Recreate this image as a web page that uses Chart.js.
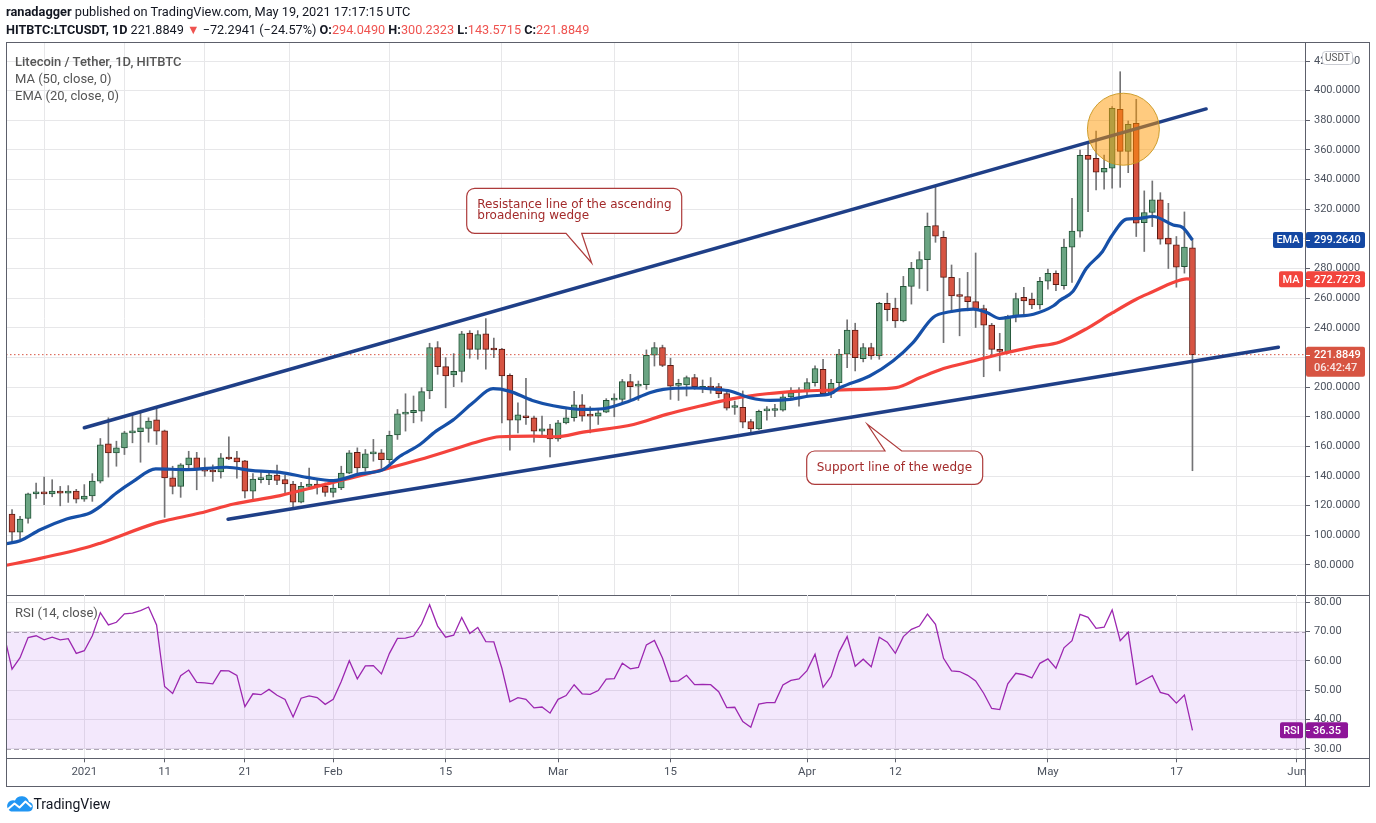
<!DOCTYPE html>
<html>
<head>
<meta charset="utf-8">
<script src="https://cdn.jsdelivr.net/npm/chart.js@4.4.1/dist/chart.umd.min.js"></script>
<style>
html,body{margin:0;padding:0;background:#fff;width:1376px;height:823px;overflow:hidden;}
canvas{position:absolute;}
.t{position:absolute;white-space:nowrap;font-family:Roboto,"Liberation Sans",sans-serif;color:#131722;z-index:5;}
.r{color:#ef5350;}
.lg{color:#555;font-size:13px;line-height:16px;}
.co{position:absolute;white-space:nowrap;font-family:"DejaVu Sans",sans-serif;font-size:12px;line-height:11.7px;color:#a32b2b;z-index:5;}
</style>
</head>
<body>
<canvas id="priceChart" width="1376" height="596" style="left:0;top:0"></canvas>
<canvas id="rsiChart" width="1376" height="228" style="left:0;top:595px"></canvas>

<div class="t" style="left:6px;top:4px;font-size:12.8px;line-height:16px"><b>ranadagger</b> published on TradingView.com, May 19, 2021 17:17:15 UTC</div>
<div class="t" style="left:6px;top:21.5px;font-size:12.7px;line-height:16px"><b>HITBTC:LTCUSDT, 1D</b> 221.8849 <span class="r">▼</span> −72.2941 (−24.57%) <b>O:</b><span class="r">294.0490</span> <b>H:</b><span class="r">300.2323</span> <b>L:</b><span class="r">143.5715</span> <b>C:</b><span class="r">221.8849</span></div>
<div class="t lg" style="left:15px;top:53.5px;font-weight:500">Litecoin / Tether, 1D, HITBTC</div>
<div class="t lg" style="left:15px;top:71px">MA (50, close, 0)</div>
<div class="t lg" style="left:15px;top:87.5px">EMA (20, close, 0)</div>
<div class="t lg" style="left:15px;top:605px">RSI (14, close)</div>
<div class="co" style="left:477.3px;top:198.6px">Resistance line of the ascending<br>broadening wedge</div>
<div class="co" style="left:816.7px;top:461.6px">Support line of the wedge</div>
<svg style="position:absolute;left:6px;top:796px" width="27" height="16" viewBox="0 0 27 16">
  <path d="M5 15.5 H22 A4.8 4.8 0 0 0 23 6 A7.5 7.5 0 0 0 9 4.5 A5.6 5.6 0 0 0 5 15.5 Z" fill="#2196f3"/>
  <polyline points="1.5,13.5 8.5,7.5 13.5,11.5 19.5,5.5 25.5,11" fill="none" stroke="#fff" stroke-width="2" stroke-linejoin="round"/>
</svg>
<div class="t" style="left:33.5px;top:796px;font-size:14px;line-height:16px;color:#131722">TradingView</div>

<script>
// ---------- DATA ----------
// day offsets relative to 2021-01-01; first candle is 2020-12-23
const firstDay = -9;
const opens = [
  114.3, 102.1, 111.4, 127.9, 129.2, 127.9, 129.9, 128.5, 129.9, 124.4,
  126.5, 136.6, 161.7, 155.6, 159.0, 169.1, 170.0, 172.1, 177.9, 170.5,
  138.7, 133.0, 147.5, 152.2, 144.3, 143.8, 142.7, 152.2, 152.2, 150.2,
  129.7, 137.6, 137.6, 140.7, 137.6, 134.6, 122.4, 133.0, 134.6, 133.0,
  129.0, 131.9, 142.0, 156.0, 145.4, 154.9, 155.6, 151.1, 167.8, 181.8,
  182.7, 183.8, 197.4, 226.7, 213.8, 208.2, 210.5, 236.4, 225.5, 236.0,
  225.5, 225.7, 208.0, 177.7, 180.4, 179.3, 170.3, 171.8, 165.1, 175.9,
  179.3, 188.1, 180.6, 180.4, 183.1, 191.2, 191.7, 203.7, 200.7, 201.6,
  221.5, 226.7, 214.7, 201.2, 201.4, 206.4, 199.2, 200.0, 200.3, 195.6,
  186.2, 186.4, 176.8, 171.8, 184.0, 184.2, 184.5, 193.3, 196.7, 196.9,
  203.0, 212.0, 195.5, 203.0, 222.2, 238.4, 219.2, 226.7, 221.1, 256.5,
  253.3, 244.7, 268.0, 279.7, 286.0, 309.0, 301.1, 274.0, 261.8, 261.1,
  257.7, 253.0, 241.8, 225.5, 223.7, 247.7, 260.5, 259.4, 255.5, 271.4,
  276.8, 268.5, 294.4, 305.2, 356.4, 354.4, 345.0, 347.7, 387.4, 359.1,
  378.0, 311.0, 317.8, 326.3, 300.5, 296.0, 281.3, 294.049
];
const highs = [
  117.3, 112.8, 128.5, 135.3, 139.3, 137.5, 133.0, 133.5, 131.0, 134.2,
  141.6, 165.3, 179.3, 163.5, 170.2, 181.5, 182.7, 179.3, 186.0, 171.0,
  146.6, 148.4, 156.7, 156.0, 152.2, 147.5, 155.2, 166.4, 156.7, 150.6,
  141.6, 143.9, 143.7, 147.3, 140.4, 136.4, 135.7, 145.4, 137.5, 135.3,
  135.7, 146.6, 157.2, 159.0, 157.9, 164.7, 157.9, 170.3, 184.9, 195.5,
  194.0, 199.6, 229.6, 230.7, 219.9, 222.6, 237.6, 238.1, 238.1, 246.2,
  233.1, 226.2, 208.9, 189.4, 205.9, 180.4, 180.4, 174.8, 177.5, 184.9,
  197.1, 194.9, 186.8, 184.9, 192.2, 195.5, 205.2, 208.6, 204.1, 225.1,
  230.1, 228.3, 219.5, 205.3, 207.5, 208.6, 204.8, 206.4, 202.5, 197.4,
  190.6, 197.4, 178.2, 184.5, 186.8, 188.3, 195.1, 199.6, 199.6, 205.7,
  214.3, 218.8, 205.2, 225.5, 245.4, 243.1, 229.4, 229.6, 257.2, 263.4,
  260.0, 274.7, 284.2, 291.4, 317.5, 335.6, 305.2, 282.4, 273.3, 277.4,
  290.5, 255.3, 243.0, 236.3, 248.5, 263.4, 267.3, 263.4, 274.1, 279.7,
  278.5, 299.8, 327.4, 360.0, 365.6, 372.8, 356.6, 389.2, 412.8, 379.6,
  394.2, 332.4, 339.1, 331.2, 324.0, 301.6, 318.2, 300.2323
];
const lows = [
  95.2, 97.4, 108.2, 124.9, 120.6, 126.0, 119.9, 122.2, 121.8, 122.9,
  122.9, 135.3, 139.3, 146.6, 154.5, 162.4, 149.3, 162.8, 161.3, 112.1,
  127.9, 125.6, 143.6, 130.7, 139.8, 136.4, 138.6, 151.1, 138.6, 125.2,
  123.4, 135.3, 134.2, 134.2, 128.5, 118.4, 121.8, 131.2, 127.8, 126.3,
  125.8, 130.8, 141.6, 141.0, 143.2, 150.0, 145.4, 148.8, 164.7, 170.3,
  175.9, 177.0, 192.2, 208.6, 186.0, 200.3, 203.4, 219.5, 218.8, 212.1,
  219.9, 175.9, 157.4, 169.1, 174.8, 162.8, 165.8, 152.9, 163.5, 175.2,
  177.0, 177.0, 169.1, 174.8, 182.7, 180.0, 189.0, 192.2, 191.0, 198.5,
  214.2, 213.8, 191.7, 191.0, 194.0, 198.5, 196.2, 195.8, 192.8, 184.5,
  181.6, 172.5, 168.0, 171.4, 177.7, 180.0, 183.8, 191.7, 187.2, 194.0,
  200.7, 195.1, 192.8, 198.5, 213.1, 210.9, 217.0, 218.8, 218.8, 244.7,
  240.2, 244.0, 256.0, 266.6, 265.0, 297.7, 230.0, 250.3, 234.6, 251.5,
  240.2, 207.0, 221.0, 210.9, 222.6, 244.0, 248.1, 253.0, 252.6, 266.1,
  265.0, 266.0, 270.6, 301.1, 318.4, 333.0, 333.5, 334.2, 334.8, 344.7,
  301.6, 291.5, 308.3, 296.4, 280.0, 267.4, 276.9, 143.5715
];
const closes = [
  102.1, 111.0, 127.9, 129.4, 127.9, 129.9, 128.5, 129.9, 124.4, 126.5,
  136.6, 161.0, 155.6, 159.0, 169.1, 170.0, 172.5, 177.0, 170.2, 138.7,
  133.0, 147.5, 152.2, 144.3, 143.2, 142.7, 152.2, 151.5, 149.5, 129.7,
  138.0, 138.0, 140.7, 137.1, 134.6, 122.4, 133.0, 134.6, 133.0, 129.0,
  131.9, 142.0, 155.6, 145.4, 154.9, 155.6, 151.1, 167.4, 182.0, 182.2,
  184.3, 196.9, 226.7, 213.8, 207.5, 210.7, 236.0, 225.5, 235.4, 225.5,
  225.0, 207.5, 177.7, 181.3, 179.3, 170.3, 171.8, 165.1, 175.9, 179.3,
  188.1, 180.4, 180.4, 182.7, 191.0, 191.7, 203.7, 200.3, 201.6, 221.5,
  226.7, 214.7, 200.7, 201.8, 206.4, 200.3, 199.6, 199.4, 195.6, 185.8,
  186.6, 176.4, 171.8, 183.6, 184.5, 184.7, 193.5, 196.2, 197.1, 203.0,
  212.5, 195.5, 202.5, 222.2, 238.4, 219.9, 226.7, 221.1, 256.5, 252.2,
  244.7, 268.0, 280.1, 286.0, 308.5, 301.8, 274.0, 261.6, 261.1, 257.7,
  253.0, 241.8, 225.5, 224.0, 247.7, 259.8, 258.2, 255.5, 271.4, 276.8,
  269.1, 294.4, 305.2, 356.4, 353.7, 345.0, 347.7, 388.1, 359.1, 377.3,
  310.6, 317.8, 326.3, 299.8, 296.4, 280.9, 294.4, 221.8849
];
// RSI (14) starts one day earlier (2020-12-22)
const rsiFirstDay = -10;
const rsiValues = [
  69,
  57.2, 61.1, 68, 68.6, 67.2, 68.1, 67.2, 67.6, 62.6, 63.5,
  68.6, 76.5, 72.3, 73.2, 76.1, 76.3, 77.2, 78.4, 72.3, 51.3,
  48.9, 55, 56.9, 52.7, 52.5, 52.2, 56.7, 56.6, 55.1, 44.4,
  48.8, 48.5, 50.3, 48.3, 46.9, 40.9, 47.3, 48.1, 47.5, 45.2,
  46.9, 53, 60.1, 53.9, 58.3, 58.4, 55.6, 62.6, 67.7, 67.8,
  68.5, 72.6, 79.2, 71.9, 68.1, 68.8, 74.8, 69.4, 71.4, 66.6,
  66.5, 57.5, 46.1, 47.5, 46.9, 44, 44.3, 42.2, 46.9, 48.2,
  51.9, 48.8, 48.6, 49.9, 53.8, 54, 59.2, 57.3, 57.8, 65.5,
  67, 61, 53, 53.2, 55.1, 51.9, 52, 51.9, 49.5, 44.1,
  44.2, 39.3, 37.4, 45.3, 45.8, 45.8, 51.8, 53.4, 53.9, 56.7,
  62.3, 51, 54.7, 63.1, 68.3, 58.2, 60.6, 58, 68.1, 66.4,
  62.6, 68.3, 70.8, 71.9, 76, 72.5, 60.9, 56.6, 56.4, 55.1,
  53.2, 49, 43.8, 43.4, 52.2, 55.8, 55.3, 54.2, 59.2, 60.7,
  57.5, 64.5, 66.9, 75.9, 74.9, 71.1, 71.5, 77.4, 66.9, 69.8,
  52, 53.5, 55, 49.3, 48.5, 45.6, 48.4, 36.35
];
// EMA(20) and MA(50) at these day offsets
const emaDays = [-9.7, -8, -5.5, -2.2, 0.7, 2, 4, 6.1, 8.9, 12.75, 17.7, 21, 24.4, 27.7, 31, 34.3, 37.2, 39.3, 41.8, 43.8,
  45.9, 48.4, 50.9, 52.9, 55.8, 58.4, 62.1, 64.6, 67.9, 70.4, 72.1, 75.8, 78.7, 80.4, 82.9, 85.4, 87.9, 90.4, 92.9, 94.1,
  97.8, 100.7, 103.2, 105.7, 107.8, 110.7, 112.4, 114, 115.7, 118.2, 120.7, 121.5, 123.1, 124.8, 126.8, 127.9, 129.8, 131, 133.1, 135.6,
  136.8, 138];
const emaValues = [94.3, 96.3, 103.7, 111, 115, 119.5, 128.5, 136.4, 144.8, 144.3, 145.9, 143.6, 142.5, 139.1, 136.9, 141.4, 144.3, 153.3, 161.3, 170.3,
  177.7, 189.4, 198.9, 197.3, 191, 187.4, 184.9, 185.4, 190.6, 196.2, 198.5, 199.4, 198.5, 197.4, 192.8, 191, 191.7, 194, 195.5, 199.6,
  207.5, 217.6, 230, 247, 250.8, 252.6, 250.3, 246.3, 247.6, 249.2, 254.9, 258.5, 264.5, 280.2, 291.5, 301.6, 313.3, 313.7, 315.1, 309.4,
  307.6, 299.264];
const maDays = [-9.7, -6.35, 0.7, 2, 8.9, 10.2, 14.4, 18.6, 24.4, 29.4, 32.7, 37.2, 41.8, 45.9, 49.2, 51.7, 55.8, 58.7, 62.1, 68.4,
  72.5, 76.7, 80.8, 85, 89.1, 93.3, 97.4, 101.1, 104.1, 107, 110.7, 114, 118.2, 121.5, 125, 128, 131, 133.1, 135.6, 137.3, 138];
const maValues = [79.8, 83.4, 92.4, 94.7, 108.2, 110, 115, 121.1, 126.8, 133.5, 138, 144.3, 151.1, 157.9, 163.5, 166.5, 166.9, 166.5, 169.6, 174.8,
  181.6, 187.2, 192.2, 195.5, 197.3, 198, 198.5, 199.6, 206.4, 212.5, 217.6, 222.2, 227.1, 230.5, 240, 250, 259.3, 264.5, 270.6, 273, 272.7273];
// drawn trend lines (wedge)
const resistanceDays = [0, 139.7];
const resistanceValues = [172.6, 387.7];
const supportDays = [17.9, 148.7];
const supportValues = [110.8, 226.9];
// highlighted zone
const highlightDays = [129.4];
const highlightValues = [374];
// last values
const lastPrice = 221.8849, emaLast = 299.2640, maLast = 272.7273, rsiLast = 36.35;
// axis ticks
const tickDays = [0, 10, 20, 31, 45, 59, 73, 90, 101, 120, 136, 151];
const tickLabels = ['2021', '11', '21', 'Feb', '15', 'Mar', '15', 'Apr', '12', 'May', '17', 'Jun'];
const priceTicks = [80, 100, 120, 140, 160, 180, 200, 220, 240, 260, 280, 300, 320, 340, 360, 380, 400, 420];
const rsiTicks = [30, 40, 50, 60, 70, 80];

// ---------- STYLE / LAYOUT ----------
const X_MIN = -9.751, X_MAX = 152.14;
const UP_FILL = '#6ba583', UP_LINE = '#225437', DN_FILL = '#d75442', DN_LINE = '#5b1a13';
const GRID = '#e7e7e9', FRAME = '#5d606b', AXIS_TXT = '#4c525e';
const FONT = 'Roboto';

const days = closes.map((_, i) => firstDay + i);
const isUp = i => closes[i] >= opens[i];

function rr(ctx, x, y, w, h, r) {
  ctx.beginPath();
  ctx.moveTo(x + r, y);
  ctx.arcTo(x + w, y, x + w, y + h, r);
  ctx.arcTo(x + w, y + h, x, y + h, r);
  ctx.arcTo(x, y + h, x, y, r);
  ctx.arcTo(x, y, x + w, y, r);
  ctx.closePath();
}
function hline(ctx, x0, x1, y) { ctx.beginPath(); ctx.moveTo(x0, y); ctx.lineTo(x1, y); ctx.stroke(); }
function vline(ctx, x, y0, y1) { ctx.beginPath(); ctx.moveTo(x, y0); ctx.lineTo(x, y1); ctx.stroke(); }
function noPad(s) { s.paddingTop = 0; s.paddingBottom = 0; s.paddingLeft = 0; s.paddingRight = 0; }

function callout(ctx, x0, y0, x1, y1, r, tail) {
  ctx.beginPath();
  ctx.moveTo(x0 + r, y0);
  if (tail.edge === 'top') { ctx.lineTo(tail.a, y0); ctx.lineTo(tail.tx, tail.ty); ctx.lineTo(tail.b, y0); }
  ctx.lineTo(x1 - r, y0);
  ctx.arcTo(x1, y0, x1, y0 + r, r);
  ctx.lineTo(x1, y1 - r);
  ctx.arcTo(x1, y1, x1 - r, y1, r);
  if (tail.edge === 'bottom') { ctx.lineTo(tail.b, y1); ctx.lineTo(tail.tx, tail.ty); ctx.lineTo(tail.a, y1); }
  ctx.lineTo(x0 + r, y1);
  ctx.arcTo(x0, y1, x0, y1 - r, r);
  ctx.lineTo(x0, y0 + r);
  ctx.arcTo(x0, y0, x0 + r, y0, r);
  ctx.closePath();
  ctx.fillStyle = '#fff';
  ctx.fill();
  ctx.strokeStyle = '#ad3b3b';
  ctx.lineWidth = 1.2;
  ctx.stroke();
}

function axisBadge(ctx, y, h, color, lines, tag, tagW) {
  const ax = 1306;
  ctx.fillStyle = color;
  rr(ctx, ax, y - 8, 59, h, 2); ctx.fill();
  if (tag) { rr(ctx, ax - 3 - tagW, y - 8, tagW, 16, 2); ctx.fill(); }
  ctx.strokeStyle = '#fff'; ctx.lineWidth = 1;
  hline(ctx, ax, ax + 4, Math.round(y) + 0.5);
  ctx.textBaseline = 'middle';
  ctx.font = '500 11px ' + FONT;
  lines.forEach((t, k) => {
    ctx.fillStyle = k === 0 ? '#fff' : 'rgba(255,255,255,0.85)';
    ctx.textAlign = 'left';
    ctx.fillText(t, ax + 8, y + 0.5 + k * 13);
  });
  if (tag) {
    ctx.fillStyle = '#fff'; ctx.textAlign = 'center';
    ctx.fillText(tag, ax - 3 - tagW / 2, y + 0.5);
  }
}

const pricePlugin = {
  id: 'pricePlugin',
  afterDraw(chart) {
    const ctx = chart.ctx, ys = chart.scales.y;
    ctx.save();
    callout(ctx, 466.7, 188.3, 681.7, 233.3, 8, { edge: 'bottom', a: 566, b: 581.7, tx: 591.7, ty: 263 });
    callout(ctx, 806.7, 451, 982.7, 484.3, 8, { edge: 'top', a: 885, b: 901.7, tx: 867.3, ty: 424.3 });
    // frame
    ctx.strokeStyle = FRAME; ctx.lineWidth = 1;
    hline(ctx, 6, 1370, 42.5);
    hline(ctx, 6, 1370, 595.5);
    vline(ctx, 6.5, 42, 596);
    vline(ctx, 1369.5, 42, 596);
    vline(ctx, 1305.5, 42, 596);
    // right axis badges
    axisBadge(ctx, ys.getPixelForValue(emaLast), 16, '#1448a3', ['299.2640'], 'EMA', 30);
    axisBadge(ctx, ys.getPixelForValue(maLast), 16, '#f2453d', ['272.7273'], 'MA', 24);
    axisBadge(ctx, ys.getPixelForValue(lastPrice), 30, '#d75442', ['221.8849', '06:42:47'], null, 0);
    // USDT badge
    ctx.fillStyle = '#fff'; ctx.strokeStyle = '#c9cbd2'; ctx.lineWidth = 1;
    rr(ctx, 1322.5, 51.5, 30, 13, 3); ctx.fill(); ctx.stroke();
    ctx.fillStyle = '#555'; ctx.font = '10px ' + FONT; ctx.textAlign = 'center'; ctx.textBaseline = 'middle';
    ctx.fillText('USDT', 1337.5, 58.5);
    ctx.restore();
  }
};

const rsiPlugin = {
  id: 'rsiPlugin',
  beforeDatasetsDraw(chart) {
    const ctx = chart.ctx, ys = chart.scales.y, ca = chart.chartArea;
    const y70 = ys.getPixelForValue(70), y30 = ys.getPixelForValue(30);
    ctx.save();
    ctx.fillStyle = 'rgba(160,80,230,0.13)';
    ctx.fillRect(ca.left, y70, ca.right - ca.left, y30 - y70);
    ctx.strokeStyle = 'rgba(130,120,140,0.65)'; ctx.lineWidth = 1; ctx.setLineDash([5, 3]);
    hline(ctx, ca.left, ca.right, Math.round(y70) + 0.5);
    hline(ctx, ca.left, ca.right, Math.round(y30) + 0.5);
    ctx.restore();
  },
  afterDraw(chart) {
    const ctx = chart.ctx, ys = chart.scales.y;
    ctx.save();
    ctx.strokeStyle = FRAME; ctx.lineWidth = 1;
    vline(ctx, 6.5, 0, 192);
    vline(ctx, 1369.5, 0, 192);
    vline(ctx, 1305.5, 0, 192);
    hline(ctx, 6, 1370, 163.5);
    hline(ctx, 6, 1370, 191.5);
    const y = ys.getPixelForValue(rsiLast);
    ctx.fillStyle = '#8e1599';
    rr(ctx, 1306, y - 8, 42, 16, 2); ctx.fill();
    rr(ctx, 1280, y - 8, 23, 16, 2); ctx.fill();
    ctx.strokeStyle = '#fff';
    hline(ctx, 1306, 1310, Math.round(y) + 0.5);
    ctx.fillStyle = '#fff'; ctx.font = '500 11px ' + FONT; ctx.textBaseline = 'middle';
    ctx.textAlign = 'left'; ctx.fillText('36.35', 1313, y + 0.5);
    ctx.textAlign = 'center'; ctx.fillText('RSI', 1291.5, y + 0.5);
    ctx.restore();
  }
};

const xTicksHook = scale => { scale.ticks = tickDays.map(v => ({ value: v })); };

// ---------- PRICE CHART ----------
new Chart(document.getElementById('priceChart'), {
  type: 'bar',
  data: {
    datasets: [
      {
        type: 'line', label: 'highlight', order: 0,
        data: highlightDays.map((d, i) => ({ x: d, y: highlightValues[i] })),
        showLine: false, pointRadius: 36, pointHoverRadius: 36,
        pointBackgroundColor: 'rgba(255,152,0,0.5)', pointBorderColor: 'rgba(200,150,30,0.9)', pointBorderWidth: 1
      },
      {
        type: 'line', label: 'resistance', order: 1,
        data: resistanceDays.map((d, i) => ({ x: d, y: resistanceValues[i] })),
        borderColor: '#1f3f87', borderWidth: 3.5, pointRadius: 0, borderCapStyle: 'round'
      },
      {
        type: 'line', label: 'support', order: 1,
        data: supportDays.map((d, i) => ({ x: d, y: supportValues[i] })),
        borderColor: '#1f3f87', borderWidth: 3.5, pointRadius: 0, borderCapStyle: 'round'
      },
      {
        type: 'line', label: 'EMA (20)', order: 2,
        data: emaDays.map((d, i) => ({ x: d, y: emaValues[i] })),
        borderColor: '#1650a8', borderWidth: 3.2, pointRadius: 0, cubicInterpolationMode: 'monotone'
      },
      {
        type: 'line', label: 'MA (50)', order: 2,
        data: maDays.map((d, i) => ({ x: d, y: maValues[i] })),
        borderColor: '#f4433c', borderWidth: 3.2, pointRadius: 0, cubicInterpolationMode: 'monotone'
      },
      {
        type: 'line', label: 'last price', order: 3,
        data: [{ x: X_MIN, y: lastPrice }, { x: X_MAX, y: lastPrice }],
        borderColor: '#d75442', borderWidth: 1, borderDash: [1.5, 2.5], pointRadius: 0
      },
      {
        type: 'bar', label: 'bodies', order: 4, grouped: false,
        data: days.map((d, i) => ({ x: d, y: [opens[i], closes[i]] })),
        backgroundColor: c => isUp(c.dataIndex) ? UP_FILL : DN_FILL,
        borderColor: c => isUp(c.dataIndex) ? UP_LINE : DN_LINE,
        borderWidth: 1, borderSkipped: false, barThickness: 6, minBarLength: 2
      },
      {
        type: 'bar', label: 'wicks', order: 5, grouped: false,
        data: days.map((d, i) => ({ x: d, y: [lows[i], highs[i]] })),
        backgroundColor: '#737375', borderWidth: 0, barThickness: 1
      }
    ]
  },
  options: {
    responsive: false, animation: false, devicePixelRatio: 1, events: [],
    layout: { padding: { left: 6, right: 6, top: 42, bottom: 1 }, autoPadding: false },
    plugins: { legend: { display: false }, tooltip: { enabled: false } },
    scales: {
      x: {
        type: 'linear', min: X_MIN, max: X_MAX, offset: false,
        afterBuildTicks: xTicksHook,
        afterFit: s => { s.height = 0; noPad(s); },
        ticks: { display: false },
        grid: { color: GRID, drawTicks: false },
        border: { display: false }
      },
      y: {
        type: 'linear', position: 'right', min: 59.71, max: 432.86,
        afterBuildTicks: s => { s.ticks = priceTicks.map(v => ({ value: v })); },
        afterFit: s => { s.width = 64; noPad(s); },
        ticks: { callback: v => v.toFixed(4), color: AXIS_TXT, font: { family: FONT, size: 11 }, padding: 4 },
        grid: { color: GRID, tickColor: FRAME, tickLength: 4 },
        border: { display: false }
      }
    }
  },
  plugins: [pricePlugin]
});

// ---------- RSI CHART ----------
new Chart(document.getElementById('rsiChart'), {
  type: 'line',
  data: {
    datasets: [{
      label: 'RSI (14)',
      data: rsiValues.map((v, i) => ({ x: rsiFirstDay + i, y: v })),
      borderColor: '#9c27b0', borderWidth: 1.3, pointRadius: 0, tension: 0
    }]
  },
  options: {
    responsive: false, animation: false, devicePixelRatio: 1, events: [],
    layout: { padding: { left: 6, right: 6, top: 0, bottom: 36.7 }, autoPadding: false },
    plugins: { legend: { display: false }, tooltip: { enabled: false } },
    scales: {
      x: {
        type: 'linear', min: X_MIN, max: X_MAX,
        afterBuildTicks: xTicksHook,
        afterFit: s => { s.height = 28; noPad(s); },
        ticks: { callback: (v, i) => tickLabels[i], color: AXIS_TXT, font: { family: FONT, size: 11.5 }, padding: 3, autoSkip: false, maxRotation: 0 },
        grid: { color: GRID, tickColor: FRAME, tickLength: 4 },
        border: { display: false }
      },
      y: {
        type: 'linear', position: 'right', min: 26.8, max: 82.5,
        afterBuildTicks: s => { s.ticks = rsiTicks.map(v => ({ value: v })); },
        afterFit: s => { s.width = 64; noPad(s); },
        ticks: { callback: v => v.toFixed(2), color: AXIS_TXT, font: { family: FONT, size: 11 }, padding: 4 },
        grid: { color: GRID, tickColor: FRAME, tickLength: 4 },
        border: { display: false }
      }
    }
  },
  plugins: [rsiPlugin]
});
</script>
</body>
</html>
